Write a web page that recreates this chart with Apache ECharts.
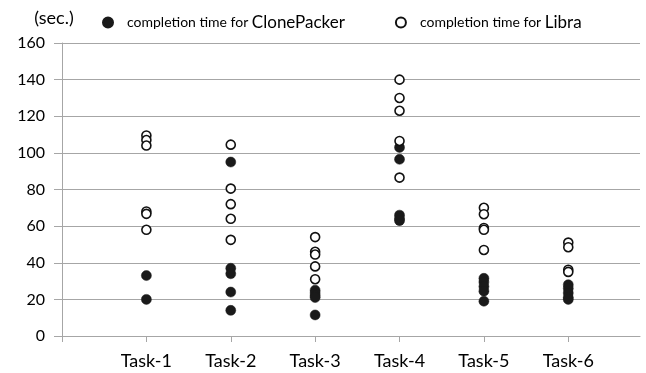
<!DOCTYPE html>
<html>
<head>
<meta charset="utf-8">
<script src="https://cdn.jsdelivr.net/npm/echarts@6/dist/echarts.min.js"></script>
<style>
html,body{margin:0;padding:0;background:#fff;}
#c{width:646px;height:373px;}
</style>
</head>
<body>
<div id="c"></div>
<script>
var categories = ['Task-1','Task-2','Task-3','Task-4','Task-5','Task-6'];
var yTicks = [0,20,40,60,80,100,120,140,160];
var clonePacker = [
  [33, 20],
  [95, 37, 34, 24, 14],
  [25, 23.5, 22, 21, 11.5],
  [103, 96.5, 66, 64, 63],
  [31.5, 29.5, 27, 24.5, 19],
  [28, 26, 23.5, 21, 20]
];
var libra = [
  [109.5, 107, 104, 68, 66.7, 58],
  [104.5, 80.5, 72, 64, 52.5],
  [54, 46, 44.5, 38, 31],
  [140, 130, 123, 106.5, 86.5],
  [70, 66.5, 59, 58, 47],
  [51, 48.5, 36.2, 35]
];
var seriesNames = ['completion time for ClonePacker', 'completion time for Libra'];

function toPoints(groups){
  var out = [];
  groups.forEach(function(g, i){
    g.forEach(function(v){ out.push([i + 1, v]); });
  });
  return out;
}

var chart = echarts.init(document.getElementById('c'));
var font = 'Lato';
chart.setOption({
  animation: false,
  textStyle: {fontFamily: font},
  grid: {left: 62, right: 6, top: 43, bottom: 37},
  legend: {
    top: 9, left: 97,
    itemWidth: 10, itemHeight: 10, itemGap: 50,
    selectedMode: false,
    formatter: function(name){
      var p = name.lastIndexOf(' ');
      return '{a|' + name.slice(0, p + 1) + '}{b|' + name.slice(p + 1) + '}';
    },
    textStyle: {
      color: '#000',
      padding: [0, 0, 0, 9],
      rich: {
        a: {fontSize: 14, fontFamily: font, color: '#000'},
        b: {fontSize: 17, fontFamily: font, color: '#000'}
      }
    },
    data: [
      {name: seriesNames[0], icon: 'circle'},
      {name: seriesNames[1], icon: 'circle'}
    ]
  },
  xAxis: {
    type: 'value', min: 0, max: 6.85, interval: 1,
    splitLine: {show: false},
    axisLine: {lineStyle: {color: '#a6a6a6', width: 1}},
    axisTick: {show: true, length: 6, customValues: [0,1,2,3,4,5,6], lineStyle: {color: '#a6a6a6'}},
    axisLabel: {
      customValues: [1,2,3,4,5,6],
      margin: 16, fontSize: 18, color: '#000', fontFamily: font,
      formatter: function(v){ return categories[Math.round(v) - 1] || ''; }
    }
  },
  yAxis: {
    type: 'value', min: 0, max: 160, interval: 20,
    name: '(sec.)', nameLocation: 'end', nameGap: 16,
    nameTextStyle: {fontSize: 18, color: '#000', fontFamily: font, align: 'center', padding: [0, 16, 0, 0]},
    axisLine: {show: true, lineStyle: {color: '#a6a6a6', width: 1}},
    axisTick: {show: true, length: 8, lineStyle: {color: '#a6a6a6'}},
    splitLine: {lineStyle: {color: '#a6a6a6', width: 1}},
    axisLabel: {
      customValues: yTicks,
      margin: 17, fontSize: 16, color: '#000', fontFamily: font
    }
  },
  series: [
    {
      name: seriesNames[0], type: 'scatter', symbol: 'circle', symbolSize: 10,
      itemStyle: {color: '#1a1a1a', borderColor: '#1a1a1a', borderWidth: 0.5, opacity: 1},
      data: toPoints(clonePacker), z: 3
    },
    {
      name: seriesNames[1], type: 'scatter', symbol: 'circle', symbolSize: 9,
      itemStyle: {color: '#fff', borderColor: '#111', borderWidth: 1.6, opacity: 1},
      data: toPoints(libra), z: 4
    }
  ]
});
</script>
</body>
</html>
